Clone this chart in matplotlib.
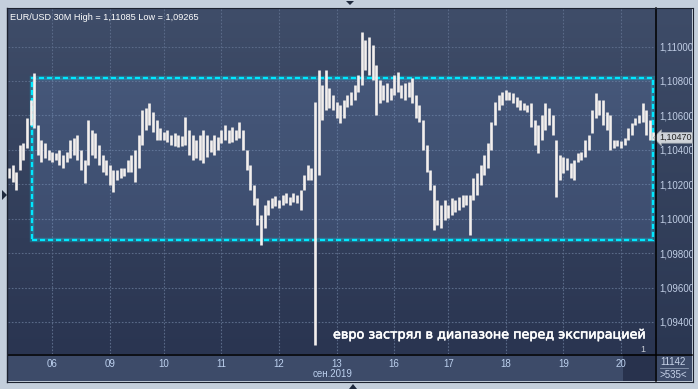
import numpy as np
import matplotlib
matplotlib.use("Agg")
import matplotlib.pyplot as plt
from matplotlib.patches import Rectangle, Polygon
from matplotlib.colors import LinearSegmentedColormap
from matplotlib.transforms import blended_transform_factory, offset_copy
from matplotlib.lines import Line2D
import matplotlib.patheffects as pe

# ---------------- data (EUR/USD 30M, one value per group of bars) ----------------
highs = [1.10294, 1.10312, 1.10271, 1.10428, 1.10440, 1.10585, 1.10689, 1.10846, 1.10544, 1.10457,
         1.10440, 1.10399, 1.10387, 1.10382, 1.10399, 1.10370, 1.10387, 1.10457, 1.10469, 1.10486,
         1.10399, 1.10341, 1.10573, 1.10515, 1.10498, 1.10428, 1.10370, 1.10341, 1.10312, 1.10283,
         1.10283, 1.10294, 1.10294, 1.10341, 1.10370, 1.10399, 1.10486, 1.10631, 1.10643, 1.10672,
         1.10620, 1.10573, 1.10527, 1.10503, 1.10515, 1.10486, 1.10498, 1.10486, 1.10480, 1.10591,
         1.10515, 1.10486, 1.10457, 1.10486, 1.10515, 1.10486, 1.10457, 1.10486, 1.10474, 1.10515,
         1.10544, 1.10515, 1.10532, 1.10515, 1.10562, 1.10515, 1.10399, 1.10312, 1.10196, 1.10120,
         1.10022, 1.10080, 1.10109, 1.10120, 1.10132, 1.10109, 1.10138, 1.10149, 1.10126, 1.10149,
         1.10138, 1.10167, 1.10254, 1.10312, 1.10294, 1.10678, 1.10863, 1.10776, 1.10863, 1.10759,
         1.10718, 1.10678, 1.10660, 1.10689, 1.10718, 1.10736, 1.10776, 1.10834, 1.11085, 1.11038,
         1.11055, 1.11009, 1.10892, 1.10805, 1.10776, 1.10788, 1.10759, 1.10834, 1.10852, 1.10776,
         1.10788, 1.10794, 1.10817, 1.10718, 1.10660, 1.10573, 1.10428, 1.10283, 1.10196, 1.10109,
         1.10080, 1.10109, 1.10080, 1.10120, 1.10109, 1.10126, 1.10138, 1.10138, 1.10138, 1.10236,
         1.10265, 1.10312, 1.10370, 1.10440, 1.10562, 1.10678, 1.10718, 1.10736, 1.10747, 1.10736,
         1.10730, 1.10707, 1.10689, 1.10672, 1.10660, 1.10672, 1.10573, 1.10544, 1.10602, 1.10672,
         1.10643, 1.10602, 1.10457, 1.10370, 1.10358, 1.10352, 1.10323, 1.10341, 1.10382, 1.10387,
         1.10457, 1.10486, 1.10631, 1.10730, 1.10689, 1.10689, 1.10620, 1.10602, 1.10457, 1.10457,
         1.10451, 1.10469, 1.10527, 1.10556, 1.10585, 1.10602, 1.10672, 1.10631, 1.10573, 1.10503]

lows = [1.10236, 1.10213, 1.10167, 1.10283, 1.10341, 1.10411, 1.10544, 1.10527, 1.10370, 1.10329,
        1.10352, 1.10341, 1.10329, 1.10341, 1.10312, 1.10294, 1.10329, 1.10352, 1.10370, 1.10341,
        1.10283, 1.10207, 1.10312, 1.10370, 1.10352, 1.10312, 1.10271, 1.10254, 1.10196, 1.10155,
        1.10225, 1.10236, 1.10248, 1.10271, 1.10271, 1.10213, 1.10294, 1.10428, 1.10515, 1.10544,
        1.10503, 1.10457, 1.10457, 1.10457, 1.10445, 1.10428, 1.10422, 1.10416, 1.10422, 1.10428,
        1.10370, 1.10341, 1.10352, 1.10341, 1.10323, 1.10358, 1.10387, 1.10370, 1.10399, 1.10440,
        1.10457, 1.10440, 1.10445, 1.10457, 1.10469, 1.10399, 1.10283, 1.10167, 1.10080, 1.09963,
        1.09847, 1.09946, 1.10022, 1.10062, 1.10074, 1.10062, 1.10080, 1.10091, 1.10080, 1.10097,
        1.10091, 1.10051, 1.10167, 1.10225, 1.10225, 1.09265, 1.10254, 1.10573, 1.10631, 1.10643,
        1.10631, 1.10585, 1.10556, 1.10585, 1.10649, 1.10660, 1.10689, 1.10736, 1.10776, 1.10863,
        1.10834, 1.10805, 1.10602, 1.10672, 1.10689, 1.10678, 1.10689, 1.10718, 1.10736, 1.10701,
        1.10689, 1.10707, 1.10672, 1.10585, 1.10562, 1.10399, 1.10271, 1.10167, 1.09934, 1.09963,
        1.09946, 1.09993, 1.10004, 1.10022, 1.10039, 1.10051, 1.10068, 1.10080, 1.09905, 1.10109,
        1.10138, 1.10196, 1.10254, 1.10294, 1.10399, 1.10544, 1.10631, 1.10660, 1.10689, 1.10689,
        1.10672, 1.10649, 1.10631, 1.10631, 1.10620, 1.10532, 1.10428, 1.10382, 1.10457, 1.10515,
        1.10544, 1.10486, 1.10126, 1.10225, 1.10265, 1.10283, 1.10236, 1.10225, 1.10329, 1.10341,
        1.10358, 1.10399, 1.10498, 1.10585, 1.10602, 1.10544, 1.10515, 1.10399, 1.10411, 1.10422,
        1.10411, 1.10428, 1.10457, 1.10486, 1.10544, 1.10556, 1.10562, 1.10486, 1.10457, 1.10457]

last_price = 1.10470
day_labels = ["06", "09", "10", "11", "12", "13", "16", "17", "18", "19", "20"]
day_idx = [12, 28, 43, 59, 75, 91, 107, 122, 138, 154, 170]
month_label = "сен.2019"
price_ticks = [1.094, 1.096, 1.098, 1.100, 1.102, 1.104, 1.106, 1.108, 1.110]
range_top, range_bottom = 1.10815, 1.09876
range_start, range_end = 6.5, 179.0
title = "EUR/USD 30M High = 1,11085 Low = 1,09265"
caption = "евро застрял в диапазоне перед экспирацией"
counter_top, counter_bottom = "11142", ">535<"

# ---------------- figure ----------------
W, H = 698, 389
fig = plt.figure(figsize=(W / 100, H / 100), dpi=100)
fig.patch.set_facecolor("#c4cfdc")


def frect(x0, y0, x1, y1):
    return [x0 / W, 1 - y1 / H, (x1 - x0) / W, (y1 - y0) / H]


def gradient_axes(rect, c_top, c_bot, z):
    a = fig.add_axes(frect(*rect), zorder=z)
    a.set_axis_off()
    cmap = LinearSegmentedColormap.from_list("g", [c_top, c_bot])
    a.imshow(np.linspace(0, 1, 256).reshape(-1, 1), aspect="auto", cmap=cmap,
             extent=[0, 1, 0, 1], origin="upper")
    a.set_xlim(0, 1)
    a.set_ylim(0, 1)
    return a


# side panels
gradient_axes((655, 8, 692, 354), "#3e4c68", "#2b3752", 0)
bot = fig.add_axes(frect(8, 354, 692, 381), zorder=0)
bot.set_axis_off()
bot.add_patch(Rectangle((0, 0), 1, 1, transform=bot.transAxes, fc="#3d4b69", ec="none"))
bot.add_patch(Rectangle(((623 - 8) / 684, 0), (655 - 623) / 684, 1, transform=bot.transAxes,
                        fc="#28324d", ec="none"))

# main axes
ax = fig.add_axes(frect(8, 8, 655, 354), zorder=1)
cmap = LinearSegmentedColormap.from_list("bg", ["#3f4d69", "#2a3551"])
ax.imshow(np.linspace(0, 1, 256).reshape(-1, 1), aspect="auto", cmap=cmap,
          extent=[0, 1, 0, 1], origin="upper", transform=ax.transAxes, zorder=0)

idx = np.arange(len(highs))
ax.set_xlim(-0.28, 179.44)
ax.set_ylim(1.09214, 1.11224)

# grid
for p in price_ticks:
    ax.axhline(p, color="#5a6a88", lw=0.8, ls=(0, (1.5, 1.5)), zorder=1)
for d in day_idx:
    ax.axvline(d, color="#5a6a88", lw=0.8, ls=(0, (1.5, 1.5)), zorder=1)

# range box
ax.add_patch(Rectangle((range_start, range_bottom), range_end - range_start, range_top - range_bottom,
                       fc="#85aff2", alpha=0.15, ec="none", zorder=1.5))
ax.add_patch(Rectangle((range_start, range_bottom), range_end - range_start, range_top - range_bottom,
                       fill=False, ec="#00e8ff", alpha=0.25, lw=3.2, zorder=2))
ax.add_patch(Rectangle((range_start, range_bottom), range_end - range_start, range_top - range_bottom,
                       fill=False, ec="#00e8ff", lw=1.6, ls=(0, (2.3, 1.3)), zorder=2.1))

# price bars
ax.vlines(idx, lows, highs, color="#f3efed", lw=1.9, zorder=3)

for s in ax.spines.values():
    s.set_visible(False)

ax.yaxis.tick_right()
ax.set_yticks(price_ticks)
ax.set_yticklabels([f"{p:.5f}".replace(".", ",") for p in price_ticks])
ax.tick_params(axis="y", length=0, pad=3, labelsize=7, labelcolor="#c0cde4")
ax.set_xticks(day_idx)
ax.set_xticklabels(day_labels)
ax.tick_params(axis="x", length=0, pad=3.5, labelsize=7, labelcolor="#bcd0ee")
for t in ax.get_xticklabels() + ax.get_yticklabels():
    t.set_family("Liberation Sans")

# month label
tr = offset_copy(blended_transform_factory(ax.transData, ax.transAxes), fig=fig, x=-4, y=-15, units="dots")
ax.text(day_idx[5], 0, month_label, transform=tr, ha="center", va="top", fontsize=7,
        color="#bcd0ee", family="Liberation Sans", clip_on=False)

# last price marker
trp = offset_copy(blended_transform_factory(ax.transAxes, ax.transData), fig=fig, x=4, y=0, units="dots")
ax.text(1.0, last_price, f"{last_price:.5f}".replace(".", ","), transform=trp, ha="left", va="center",
        fontsize=6.5, color="#222222", family="Liberation Sans", zorder=10, clip_on=False,
        bbox=dict(boxstyle="larrow,pad=0.1", fc="#cfd3d9", ec="#9aa0a8", lw=0.5))

# texts
ax.text(0.003, 0.985, title, transform=ax.transAxes, ha="left", va="top", fontsize=6.6,
        color="white", family="Liberation Sans", zorder=10)
ax.text((333 - 8) / 647, (354 - 338.5) / 346, caption, transform=ax.transAxes, ha="left",
        va="baseline", fontsize=9.2, color="white", family="DejaVu Sans", zorder=10,
        path_effects=[pe.withStroke(linewidth=0.4, foreground="white")])
ax.text((643 - 8) / 647, (354 - 352) / 346, "1", transform=ax.transAxes, ha="center",
        va="baseline", fontsize=6.5, color="#c8ccd4", family="Liberation Sans", zorder=10)

fig.text(673 / W, 1 - 362 / H, counter_top, ha="center", va="center", fontsize=7, color="#c8d4ea",
         family="Liberation Sans")
fig.text(673 / W, 1 - 375 / H, counter_bottom, ha="center", va="center", fontsize=7, color="#c8d4ea",
         family="Liberation Sans")
fig.add_artist(Line2D([660 / W, 688 / W], [1 - 368 / H, 1 - 368 / H], color="#8a98b0", lw=0.6))

# borders
def fline(x0, y0, x1, y1, c="black", lw=1.1, z=5):
    fig.add_artist(Line2D([x0 / W, x1 / W], [1 - y0 / H, 1 - y1 / H], color=c, lw=lw, zorder=z))

fline(655.5, 8, 655.5, 381)
fline(8, 354.5, 692, 354.5)
fline(7.5, 7.5, 692.5, 7.5, c="#1c2230", lw=0.8)
fline(7.5, 7.5, 7.5, 381.5, c="#1c2230", lw=1.0)
fline(692.5, 7.5, 692.5, 381.5, c="#1c2230", lw=0.8)
fline(7.5, 381.5, 692.5, 381.5, c="#1c2230", lw=0.8)

# small navigation triangles
def ftri(pts, c="#1f2a3e"):
    fig.add_artist(Polygon([(x / W, 1 - y / H) for x, y in pts], closed=True, fc=c, ec="none", zorder=6))

ftri([(346, 1), (354, 1), (350, 5)])
ftri([(2, 190), (2, 200), (7, 195)])
ftri([(349, 389), (357, 389), (353, 384)])

fig.savefig("out.png", dpi=100, facecolor=fig.get_facecolor())
